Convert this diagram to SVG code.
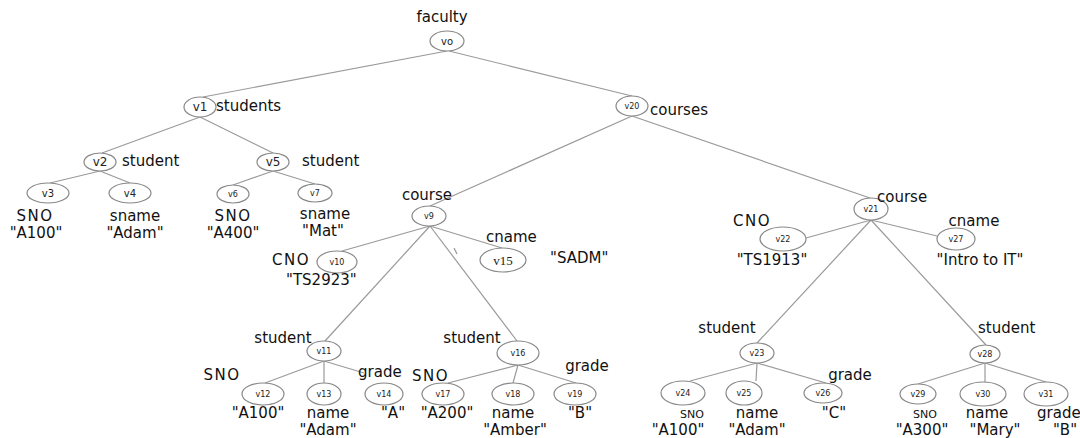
<svg xmlns="http://www.w3.org/2000/svg" width="1080" height="438" viewBox="0 0 1080 438">
<style>
.e{stroke:#9a9a9a;stroke-width:1.2;fill:none}
.n ellipse{fill:#fff;stroke:#888;stroke-width:1.2}
.n text{font-family:"DejaVu Sans",sans-serif;font-size:8px;fill:#222;text-anchor:middle;dominant-baseline:central}
.n text.b{font-size:12px}
.n text.m{font-size:10px}
.n text.s{font-family:"Liberation Serif",serif;font-size:13px}
.t{font-family:"DejaVu Sans",sans-serif;font-size:15px;fill:#111;text-anchor:middle}
.l{text-anchor:start}
.u{letter-spacing:1.5px}
.k{font-size:11px}
</style>
<rect width="1080" height="438" fill="#fff"/>
<g id="connectors">
<line class="e" x1="447" y1="51" x2="203" y2="97"/>
<line class="e" x1="449" y1="51" x2="632" y2="96"/>
<line class="e" x1="200" y1="117" x2="102" y2="153"/>
<line class="e" x1="200" y1="117" x2="273" y2="153"/>
<line class="e" x1="632" y1="116" x2="430" y2="206"/>
<line class="e" x1="632" y1="116" x2="870" y2="198"/>
<line class="e" x1="100" y1="171" x2="50" y2="183"/>
<line class="e" x1="100" y1="171" x2="130" y2="183"/>
<line class="e" x1="273" y1="171" x2="233" y2="185"/>
<line class="e" x1="273" y1="171" x2="315" y2="184"/>
<line class="e" x1="430" y1="226" x2="342" y2="251"/>
<line class="e" x1="430" y1="226" x2="502" y2="248"/>
<line class="e" x1="430" y1="226" x2="325" y2="341"/>
<line class="e" x1="430" y1="226" x2="517" y2="341"/>
<line class="e" x1="454" y1="248" x2="457" y2="254"/>
<line class="e" x1="871" y1="220" x2="806" y2="238"/>
<line class="e" x1="871" y1="220" x2="937" y2="236"/>
<line class="e" x1="871" y1="220" x2="757" y2="343"/>
<line class="e" x1="871" y1="220" x2="986" y2="345"/>
<line class="e" x1="324" y1="361" x2="265" y2="383"/>
<line class="e" x1="324" y1="361" x2="324" y2="383"/>
<line class="e" x1="324" y1="361" x2="364" y2="373"/>
<line class="e" x1="518" y1="365" x2="448" y2="383"/>
<line class="e" x1="518" y1="365" x2="513" y2="383"/>
<line class="e" x1="518" y1="365" x2="576" y2="383"/>
<line class="e" x1="757" y1="363" x2="690" y2="381"/>
<line class="e" x1="757" y1="363" x2="756" y2="381"/>
<line class="e" x1="757" y1="363" x2="826" y2="383"/>
<line class="e" x1="985" y1="363" x2="918" y2="384"/>
<line class="e" x1="985" y1="363" x2="985" y2="382"/>
<line class="e" x1="985" y1="363" x2="1046" y2="382"/>
</g>
<g id="v0" class="n"><ellipse cx="447" cy="41" rx="17" ry="10"/><text class="m" x="447" y="41">vo</text></g>
<g id="v1" class="n"><ellipse cx="200" cy="107" rx="16" ry="10"/><text class="b" x="200" y="107">v1</text></g>
<g id="v20" class="n"><ellipse cx="632" cy="106" rx="16" ry="10"/><text x="632" y="106">v20</text></g>
<g id="v2" class="n"><ellipse cx="100" cy="162" rx="16" ry="9"/><text class="b" x="100" y="162">v2</text></g>
<g id="v5" class="n"><ellipse cx="273" cy="162" rx="16" ry="9"/><text class="b" x="273" y="162">v5</text></g>
<g id="v3" class="n"><ellipse cx="48" cy="193" rx="21" ry="10"/><text class="m" x="48" y="193">v3</text></g>
<g id="v4" class="n"><ellipse cx="130" cy="193" rx="21" ry="10"/><text class="m" x="130" y="193">v4</text></g>
<g id="v6" class="n"><ellipse cx="233" cy="194" rx="16" ry="9"/><text x="233" y="194">v6</text></g>
<g id="v7" class="n"><ellipse cx="315" cy="193" rx="17" ry="9"/><text x="315" y="193">v7</text></g>
<g id="v9" class="n"><ellipse cx="429" cy="216" rx="17" ry="10"/><text x="429" y="216">v9</text></g>
<g id="v10" class="n"><ellipse cx="337" cy="262" rx="20" ry="11"/><text x="337" y="262">v10</text></g>
<g id="v15" class="n"><ellipse cx="503" cy="260" rx="23" ry="12"/><text class="s" x="503" y="260">v15</text></g>
<g id="v21" class="n"><ellipse cx="871" cy="209" rx="17" ry="11"/><text x="871" y="209">v21</text></g>
<g id="v22" class="n"><ellipse cx="783" cy="239" rx="23" ry="12"/><text x="783" y="239">v22</text></g>
<g id="v27" class="n"><ellipse cx="956" cy="239" rx="19" ry="11"/><text x="956" y="239">v27</text></g>
<g id="v11" class="n"><ellipse cx="324" cy="351" rx="17" ry="10"/><text x="324" y="351">v11</text></g>
<g id="v16" class="n"><ellipse cx="518" cy="353" rx="21" ry="12"/><text x="518" y="353">v16</text></g>
<g id="v12" class="n"><ellipse cx="263" cy="394" rx="21" ry="11"/><text x="263" y="394">v12</text></g>
<g id="v13" class="n"><ellipse cx="324" cy="394" rx="17" ry="11"/><text x="324" y="394">v13</text></g>
<g id="v14" class="n"><ellipse cx="384" cy="394" rx="19" ry="11"/><text x="384" y="394">v14</text></g>
<g id="v17" class="n"><ellipse cx="443" cy="394" rx="21" ry="11"/><text x="443" y="394">v17</text></g>
<g id="v18" class="n"><ellipse cx="513" cy="394" rx="21" ry="11"/><text x="513" y="394">v18</text></g>
<g id="v19" class="n"><ellipse cx="575" cy="394" rx="21" ry="11"/><text x="575" y="394">v19</text></g>
<g id="v23" class="n"><ellipse cx="757" cy="353" rx="17" ry="10"/><text x="757" y="353">v23</text></g>
<g id="v24" class="n"><ellipse cx="683" cy="393" rx="22" ry="12"/><text x="683" y="393">v24</text></g>
<g id="v25" class="n"><ellipse cx="744" cy="393" rx="18" ry="12"/><text x="744" y="393">v25</text></g>
<g id="v26" class="n"><ellipse cx="823" cy="393" rx="19" ry="10"/><text x="823" y="393">v26</text></g>
<g id="v28" class="n"><ellipse cx="985" cy="354" rx="15" ry="9"/><text x="985" y="354">v28</text></g>
<g id="v29" class="n"><ellipse cx="918" cy="394" rx="18" ry="10"/><text x="918" y="394">v29</text></g>
<g id="v30" class="n"><ellipse cx="983" cy="394" rx="23" ry="12"/><text x="983" y="394">v30</text></g>
<g id="v31" class="n"><ellipse cx="1046" cy="394" rx="22" ry="12"/><text x="1046" y="394">v31</text></g>
<g id="labels">
<text class="t" x="442" y="22">faculty</text>
<text class="t l" x="216" y="111">students</text>
<text class="t l" x="650" y="115">courses</text>
<text class="t l" x="122" y="166">student</text>
<text class="t l" x="302" y="166">student</text>
<text class="t u" x="35" y="221">SNO</text>
<text class="t" x="36" y="238">&quot;A100&quot;</text>
<text class="t" x="135" y="221">sname</text>
<text class="t" x="135" y="238">&quot;Adam&quot;</text>
<text class="t u" x="233" y="221">SNO</text>
<text class="t" x="233" y="238">&quot;A400&quot;</text>
<text class="t" x="325" y="219">sname</text>
<text class="t" x="323" y="236">&quot;Mat&quot;</text>
<text class="t" x="427" y="200">course</text>
<text class="t u l" x="272" y="265">CNO</text>
<text class="t l" x="286" y="285">&quot;TS2923&quot;</text>
<text class="t l" x="486" y="242">cname</text>
<text class="t l" x="550" y="263">&quot;SADM&quot;</text>
<text class="t l" x="877" y="202">course</text>
<text class="t u l" x="733" y="226">CNO</text>
<text class="t" x="772" y="265">&quot;TS1913&quot;</text>
<text class="t" x="974" y="226">cname</text>
<text class="t" x="980" y="265">&quot;Intro to IT&quot;</text>
<text class="t" x="283" y="343">student</text>
<text class="t" x="472" y="343">student</text>
<text class="t u" x="222" y="380">SNO</text>
<text class="t" x="258" y="418">&quot;A100&quot;</text>
<text class="t" x="328" y="418">name</text>
<text class="t" x="328" y="435">&quot;Adam&quot;</text>
<text class="t l" x="358" y="377">grade</text>
<text class="t" x="393" y="418">&quot;A&quot;</text>
<text class="t u l" x="412" y="381">SNO</text>
<text class="t" x="447" y="418">&quot;A200&quot;</text>
<text class="t" x="513" y="418">name</text>
<text class="t" x="515" y="435">&quot;Amber&quot;</text>
<text class="t" x="587" y="371">grade</text>
<text class="t" x="580" y="418">&quot;B&quot;</text>
<text class="t" x="727" y="333">student</text>
<text class="t k" x="692" y="418">SNO</text>
<text class="t" x="678" y="435">&quot;A100&quot;</text>
<text class="t" x="757" y="418">name</text>
<text class="t" x="757" y="435">&quot;Adam&quot;</text>
<text class="t" x="850" y="380">grade</text>
<text class="t" x="834" y="418">&quot;C&quot;</text>
<text class="t l" x="978" y="333">student</text>
<text class="t k" x="925" y="418">SNO</text>
<text class="t" x="922" y="435">&quot;A300&quot;</text>
<text class="t" x="987" y="418">name</text>
<text class="t" x="995" y="435">&quot;Mary&quot;</text>
<text class="t l" x="1037" y="418">grade</text>
<text class="t" x="1065" y="435">&quot;B&quot;</text>
</g>
</svg>
